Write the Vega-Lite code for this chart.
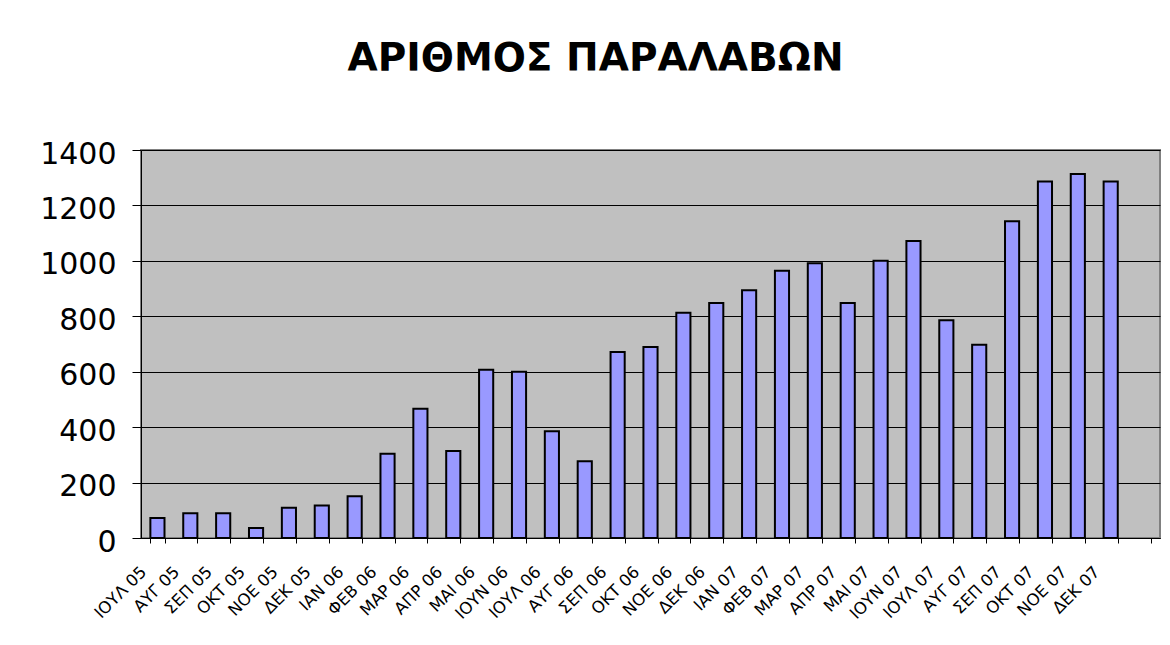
{
  "$schema": "https://vega.github.io/schema/vega-lite/v6.json",
  "width": 1019,
  "height": 388,
  "autosize": {"type": "none"},
  "padding": {"left": 141, "top": 150, "right": 10, "bottom": 107},
  "background": "white",
  "title": {
    "text": "ΑΡΙΘΜΟΣ ΠΑΡΑΛΑΒΩΝ",
    "font": "DejaVu Sans",
    "fontSize": 39,
    "fontWeight": "bold",
    "color": "black",
    "anchor": "middle",
    "frame": "group",
    "dx": -55,
    "offset": 60
  },
  "data": {
    "values": [
      {"month": "ΙΟΥΛ 05", "count": 72},
      {"month": "ΑΥΓ 05", "count": 89},
      {"month": "ΣΕΠ 05", "count": 89},
      {"month": "ΟΚΤ 05", "count": 36},
      {"month": "ΝΟΕ 05", "count": 109},
      {"month": "ΔΕΚ 05", "count": 117},
      {"month": "ΙΑΝ 06", "count": 151},
      {"month": "ΦΕΒ 06", "count": 304},
      {"month": "ΜΑΡ 06", "count": 466},
      {"month": "ΑΠΡ 06", "count": 314},
      {"month": "ΜΑΙ 06", "count": 607},
      {"month": "ΙΟΥΝ 06", "count": 600},
      {"month": "ΙΟΥΛ 06", "count": 385},
      {"month": "ΑΥΓ 06", "count": 277},
      {"month": "ΣΕΠ 06", "count": 671},
      {"month": "ΟΚΤ 06", "count": 689},
      {"month": "ΝΟΕ 06", "count": 813},
      {"month": "ΔΕΚ 06", "count": 848},
      {"month": "ΙΑΝ 07", "count": 894},
      {"month": "ΦΕΒ 07", "count": 964},
      {"month": "ΜΑΡ 07", "count": 991},
      {"month": "ΑΠΡ 07", "count": 848},
      {"month": "ΜΑΙ 07", "count": 1000},
      {"month": "ΙΟΥΝ 07", "count": 1072},
      {"month": "ΙΟΥΛ 07", "count": 786},
      {"month": "ΑΥΓ 07", "count": 697},
      {"month": "ΣΕΠ 07", "count": 1143},
      {"month": "ΟΚΤ 07", "count": 1286},
      {"month": "ΝΟΕ 07", "count": 1313},
      {"month": "ΔΕΚ 07", "count": 1286}
    ]
  },
  "mark": {"type": "bar", "fill": "#9999FF", "stroke": "black", "strokeWidth": 2},
  "encoding": {
    "x": {
      "field": "month",
      "type": "nominal",
      "sort": null,
      "scale": {
        "domain": ["ΙΟΥΛ 05","ΑΥΓ 05","ΣΕΠ 05","ΟΚΤ 05","ΝΟΕ 05","ΔΕΚ 05","ΙΑΝ 06","ΦΕΒ 06","ΜΑΡ 06","ΑΠΡ 06","ΜΑΙ 06","ΙΟΥΝ 06","ΙΟΥΛ 06","ΑΥΓ 06","ΣΕΠ 06","ΟΚΤ 06","ΝΟΕ 06","ΔΕΚ 06","ΙΑΝ 07","ΦΕΒ 07","ΜΑΡ 07","ΑΠΡ 07","ΜΑΙ 07","ΙΟΥΝ 07","ΙΟΥΛ 07","ΑΥΓ 07","ΣΕΠ 07","ΟΚΤ 07","ΝΟΕ 07","ΔΕΚ 07",""],
        "paddingInner": 0.57,
        "paddingOuter": 0.285
      },
      "axis": {
        "title": null,
        "labelAngle": -45,
        "labelAlign": "right",
        "labelBaseline": "middle",
        "labelFont": "DejaVu Sans",
        "labelFontSize": 16.5,
        "labelColor": "black",
        "labelPadding": 26,
        "labelOffset": -14,
        "labelOverlap": false,
        "tickBand": "extent",
        "tickColor": "black",
        "tickSize": 5,
        "domainColor": "black",
        "grid": false
      }
    },
    "y": {
      "field": "count",
      "type": "quantitative",
      "scale": {"domain": [0, 1400], "nice": false},
      "axis": {
        "title": null,
        "values": [0, 200, 400, 600, 800, 1000, 1200, 1400],
        "format": "d",
        "labelFont": "DejaVu Sans",
        "labelFontSize": 30,
        "labelColor": "black",
        "labelPadding": 16,
        "labelOffset": 4,
        "tickColor": "black",
        "tickSize": 9,
        "domainColor": "black",
        "grid": true,
        "gridColor": "black",
        "gridOpacity": 1,
        "gridWidth": 1
      }
    }
  },
  "config": {
    "view": {"fill": "#C0C0C0", "stroke": "#808080", "strokeWidth": 2}
  }
}
